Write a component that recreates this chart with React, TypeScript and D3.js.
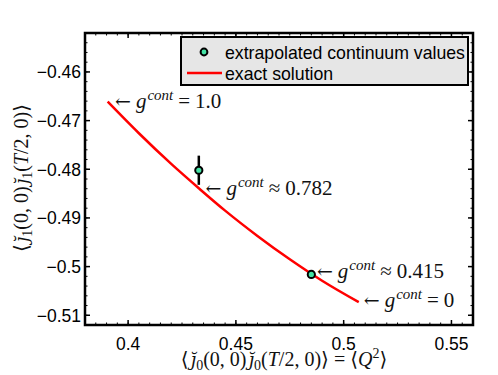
import React from "react";
import * as d3 from "d3";

const W = 498, H = 375;
const xDomain = [0.38, 0.56];
const yDomain = [-0.512, -0.452];
const xTicks = [0.4, 0.45, 0.5, 0.55];
const xTickLabels = ["0.4", "0.45", "0.5", "0.55"];
const yTicks = [-0.46, -0.47, -0.48, -0.49, -0.5, -0.51];
const yTickLabels = ["\u22120.46", "\u22120.47", "\u22120.48", "\u22120.49", "\u22120.5", "\u22120.51"];

const exactX = [0.3905, 0.405, 0.42, 0.4328, 0.445, 0.46, 0.475, 0.49, 0.507];
const exactY = [-0.4661, -0.4726, -0.4789, -0.4839, -0.4885, -0.4937, -0.4985, -0.5029, -0.5073];

const pointX = [0.4328, 0.485];
const pointY = [-0.4802, -0.5016];
const pointErr = [0.003, 0.0005];

const annX = [0.3939, 0.4359, 0.4876, 0.5093];
const annY = [-0.4675, -0.4853, -0.5023, -0.5083];
const annRel = ["=", "\u2248", "\u2248", "="];
const annVal = ["1.0", "0.782", "0.415", "0"];

const legendLabels = ["extrapolated continuum values", "exact solution"];

export default function App() {
  const L = 85, R = 473, T = 33, B = 325;
  const x = d3.scaleLinear().domain(xDomain).range([L, R]);
  const y = d3.scaleLinear().domain(yDomain).range([B, T]);
  const line = d3.line<number>().x((_, i) => x(exactX[i])).y((d) => y(d)).curve(d3.curveMonotoneX);
  const xMinor = d3.range(0, 37).map((i) => 0.38 + i * 0.005);
  const yMinor = d3.range(0, 31).map((i) => -0.512 + i * 0.002);
  const sans = "'Liberation Sans', Arial, sans-serif";
  const serif = "'Liberation Serif', 'DejaVu Serif', serif";
  const green = "#44e2a4";

  const Jb = (sub: string) => (
    <>
      <tspan fontStyle="italic" fontFamily="'DejaVu Serif', serif" fontSize={18} dx={2}>{"\u0237\u0306"}</tspan>
      <tspan fontSize={14} dy={4}>{sub}</tspan>
    </>
  );

  return (
    <svg width={W} height={H} style={{ position: "absolute", left: 0, top: 0, background: "#fff" }}>
      <rect x={0} y={0} width={W} height={H} fill="#fff" />
      {xMinor.map((v, i) => (
        <g key={"xm" + i}>
          <line x1={x(v)} x2={x(v)} y1={B} y2={B - 2.5} stroke="#000" strokeWidth={1} />
          <line x1={x(v)} x2={x(v)} y1={T} y2={T + 2.5} stroke="#000" strokeWidth={1} />
        </g>
      ))}
      {yMinor.map((v, i) => (
        <g key={"ym" + i}>
          <line x1={L} x2={L + 2.5} y1={y(v)} y2={y(v)} stroke="#000" strokeWidth={1} />
          <line x1={R} x2={R - 2.5} y1={y(v)} y2={y(v)} stroke="#000" strokeWidth={1} />
        </g>
      ))}
      {xTicks.map((v, i) => (
        <g key={"xt" + i}>
          <line x1={x(v)} x2={x(v)} y1={B} y2={B - 5} stroke="#000" strokeWidth={1.5} />
          <line x1={x(v)} x2={x(v)} y1={T} y2={T + 5} stroke="#000" strokeWidth={1.5} />
          <text x={x(v)} y={B + 25} textAnchor="middle" fontFamily={sans} fontSize={17.5}>{xTickLabels[i]}</text>
        </g>
      ))}
      {yTicks.map((v, i) => (
        <g key={"yt" + i}>
          <line x1={L} x2={L + 5} y1={y(v)} y2={y(v)} stroke="#000" strokeWidth={1.5} />
          <line x1={R} x2={R - 5} y1={y(v)} y2={y(v)} stroke="#000" strokeWidth={1.5} />
          <text x={L - 4} y={y(v) + 6.3} textAnchor="end" fontFamily={sans} fontSize={17.5}>{yTickLabels[i]}</text>
        </g>
      ))}
      <path d={line(exactY) || ""} fill="none" stroke="#ff0000" strokeWidth={2.5} />
      {pointX.map((v, i) => (
        <g key={"p" + i}>
          <line x1={x(v)} x2={x(v)} y1={y(pointY[i] - pointErr[i])} y2={y(pointY[i] + pointErr[i])} stroke="#000" strokeWidth={2.5} />
          <circle cx={x(v)} cy={y(pointY[i])} r={3.6} fill={green} stroke="#000" strokeWidth={2} />
        </g>
      ))}
      {annX.map((v, i) => (
        <text key={"a" + i} x={x(v)} y={y(annY[i])} fontFamily={serif} fontSize={21} fill="#111">
          <tspan fontFamily="'DejaVu Serif', serif" fontSize={19}>{"\u2190"}</tspan>
          <tspan fontStyle="italic" dx={5}>g</tspan>
          <tspan fontStyle="italic" fontSize={15} dy={-8} dx={1}>cont</tspan>
          <tspan dy={8} dx={5}>{annRel[i]}</tspan>
          <tspan dx={5}>{annVal[i]}</tspan>
        </text>
      ))}
      <rect x={L} y={T} width={R - L} height={B - T} fill="none" stroke="#000" strokeWidth={2.5} />
      <rect x={181} y={37} width={287} height={48} fill="#e6e6e6" stroke="#000" strokeWidth={2} />
      <circle cx={204} cy={52} r={3.4} fill={green} stroke="#000" strokeWidth={2} />
      <line x1={187} x2={222} y1={73} y2={73} stroke="#ff0000" strokeWidth={2.5} />
      <text x={225} y={58.5} fontFamily={sans} fontSize={17.7}>{legendLabels[0]}</text>
      <text x={225} y={79.5} fontFamily={sans} fontSize={17.7}>{legendLabels[1]}</text>
      <text x={284} y={366} textAnchor="middle" fontFamily={serif} fontSize={20} fill="#111">
        <tspan>{"\u27E8"}</tspan>
        {Jb("0")}
        <tspan dy={-4}>(0, 0)</tspan>
        {Jb("0")}
        <tspan dy={-4}>(</tspan>
        <tspan fontStyle="italic">T</tspan>
        <tspan>/2, 0)</tspan>
        <tspan>{"\u27E9"}</tspan>
        <tspan dx={5}>=</tspan>
        <tspan dx={5}>{"\u27E8"}</tspan>
        <tspan fontStyle="italic">Q</tspan>
        <tspan fontSize={14} dy={-8}>2</tspan>
        <tspan dy={8}>{"\u27E9"}</tspan>
      </text>
      <text transform="translate(28,178) rotate(-90)" textAnchor="middle" fontFamily={serif} fontSize={20} fill="#111">
        <tspan>{"\u27E8"}</tspan>
        {Jb("1")}
        <tspan dy={-4}>(0, 0)</tspan>
        {Jb("1")}
        <tspan dy={-4}>(</tspan>
        <tspan fontStyle="italic">T</tspan>
        <tspan>/2, 0)</tspan>
        <tspan>{"\u27E9"}</tspan>
      </text>
    </svg>
  );
}
